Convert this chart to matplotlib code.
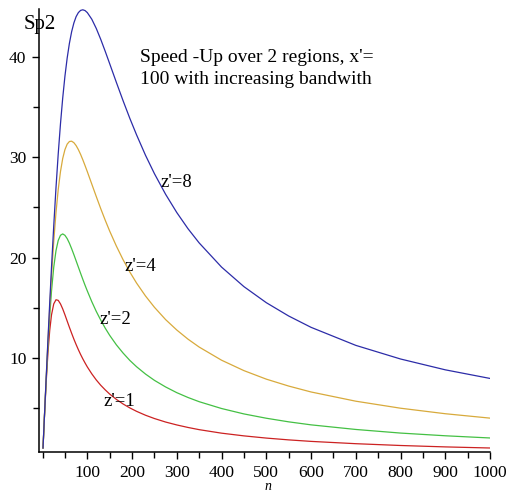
import matplotlib
matplotlib.use("Agg")
import matplotlib.pyplot as plt
from matplotlib.ticker import MultipleLocator

# values
n_vals = [1, 4, 8, 12, 16, 20, 25, 30, 35, 40, 45, 50, 55, 60, 65, 70, 75, 80, 85, 90,
          95, 100, 110, 120, 130, 140, 150, 165, 180, 195, 210, 230, 250, 275, 300, 325, 350,
          400, 450, 500, 550, 600, 700, 800, 900, 1000]

sp_z1 = [1.00, 3.94, 7.52, 10.49, 12.74, 14.29, 15.38, 15.79, 15.73, 15.38,
         14.88, 14.29, 13.66, 13.04, 12.44, 11.86, 11.32, 10.81, 10.33, 9.89,
         9.48, 9.09, 8.40, 7.79, 7.26, 6.80, 6.38, 5.85, 5.39, 5.00,
         4.66, 4.27, 3.94, 3.59, 3.30, 3.05, 2.83, 2.48, 2.21, 1.99,
         1.81, 1.66, 1.43, 1.25, 1.11, 1.00]
sp_z2 = [1.00, 3.97, 7.75, 11.19, 14.18, 16.67, 19.05, 20.69, 21.71, 22.22,
         22.36, 22.22, 21.89, 21.43, 20.88, 20.29, 19.67, 19.05, 18.43, 17.82,
         17.23, 16.67, 15.60, 14.63, 13.76, 12.96, 12.24, 11.29, 10.47, 9.74,
         9.11, 8.38, 7.75, 7.09, 6.52, 6.04, 5.62, 4.94, 4.40, 3.97,
         3.61, 3.31, 2.85, 2.49, 2.22, 2.00]
sp_z4 = [1.00, 3.98, 7.87, 11.58, 15.04, 18.18, 21.62, 24.49, 26.79, 28.57,
         29.88, 30.77, 31.32, 31.58, 31.61, 31.46, 31.17, 30.77, 30.29, 29.75,
         29.17, 28.57, 27.33, 26.09, 24.88, 23.73, 22.64, 21.14, 19.78, 18.56,
         17.46, 16.17, 15.04, 13.81, 12.77, 11.86, 11.07, 9.76, 8.72, 7.87,
         7.18, 6.59, 5.67, 4.97, 4.42, 3.98]
sp_z8 = [1.00, 3.99, 7.94, 11.79, 15.50, 19.05, 23.19, 26.97, 30.35, 33.33,
         35.91, 38.10, 39.91, 41.38, 42.54, 43.41, 44.04, 44.44, 44.66, 44.72,
         44.64, 44.44, 43.78, 42.86, 41.77, 40.58, 39.34, 37.47, 35.64, 33.89,
         32.25, 30.21, 28.37, 26.31, 24.49, 22.88, 21.46, 19.05, 17.10, 15.50,
         14.17, 13.04, 11.24, 9.88, 8.80, 7.94]

curves = [(sp_z1, "#cc2222"), (sp_z2, "#44c044"), (sp_z4, "#d8aa3c"), (sp_z8, "#2c2ca8")]

labels = ["z'=1", "z'=2", "z'=4", "z'=8"]
label_x = [137, 128, 184, 263]
label_y = [5.6, 13.8, 19.1, 27.5]

plt.rcParams['font.family'] = ['Liberation Serif', 'DejaVu Serif']

fig = plt.figure(figsize=(5.09, 4.94), dpi=100)
ax = fig.add_axes([0.0766, 0.085, 0.8861, 0.8968])

for ys, col in curves:
    ax.plot(n_vals, ys, color=col, lw=0.9)

for lab, lx, ly in zip(labels, label_x, label_y):
    ax.text(lx, ly, lab, fontsize=13.5, ha='left', va='center')

ax.text(218, 40.8, "Speed -Up over 2 regions, x'=\n100 with increasing bandwith",
        fontsize=14, ha='left', va='top', linespacing=1.35)

ax.set_xlim(-8, 1000)
ax.set_ylim(0.6, 44.8)
ax.xaxis.set_minor_locator(MultipleLocator(50))
ax.yaxis.set_minor_locator(MultipleLocator(5))
ax.set_xticks([100, 200, 300, 400, 500, 600, 700, 800, 900, 1000])
ax.set_yticks([10, 20, 30, 40])

for s in ['top', 'right']:
    ax.spines[s].set_visible(False)
for s in ['left', 'bottom']:
    ax.spines[s].set_linewidth(1.1)

ax.tick_params(which='major', direction='out', length=5, width=1, labelsize=12.5, pad=4)
ax.tick_params(which='minor', direction='out', length=4.5, width=1)

fig.text(40 / 509, 1 - 24 / 494, "Sp2", fontsize=15, ha='center', va='center')
fig.text(268 / 509, 1 - 486 / 494, "n", fontsize=10, style='italic', ha='center', va='center')

fig.savefig("out.png", dpi=100)
